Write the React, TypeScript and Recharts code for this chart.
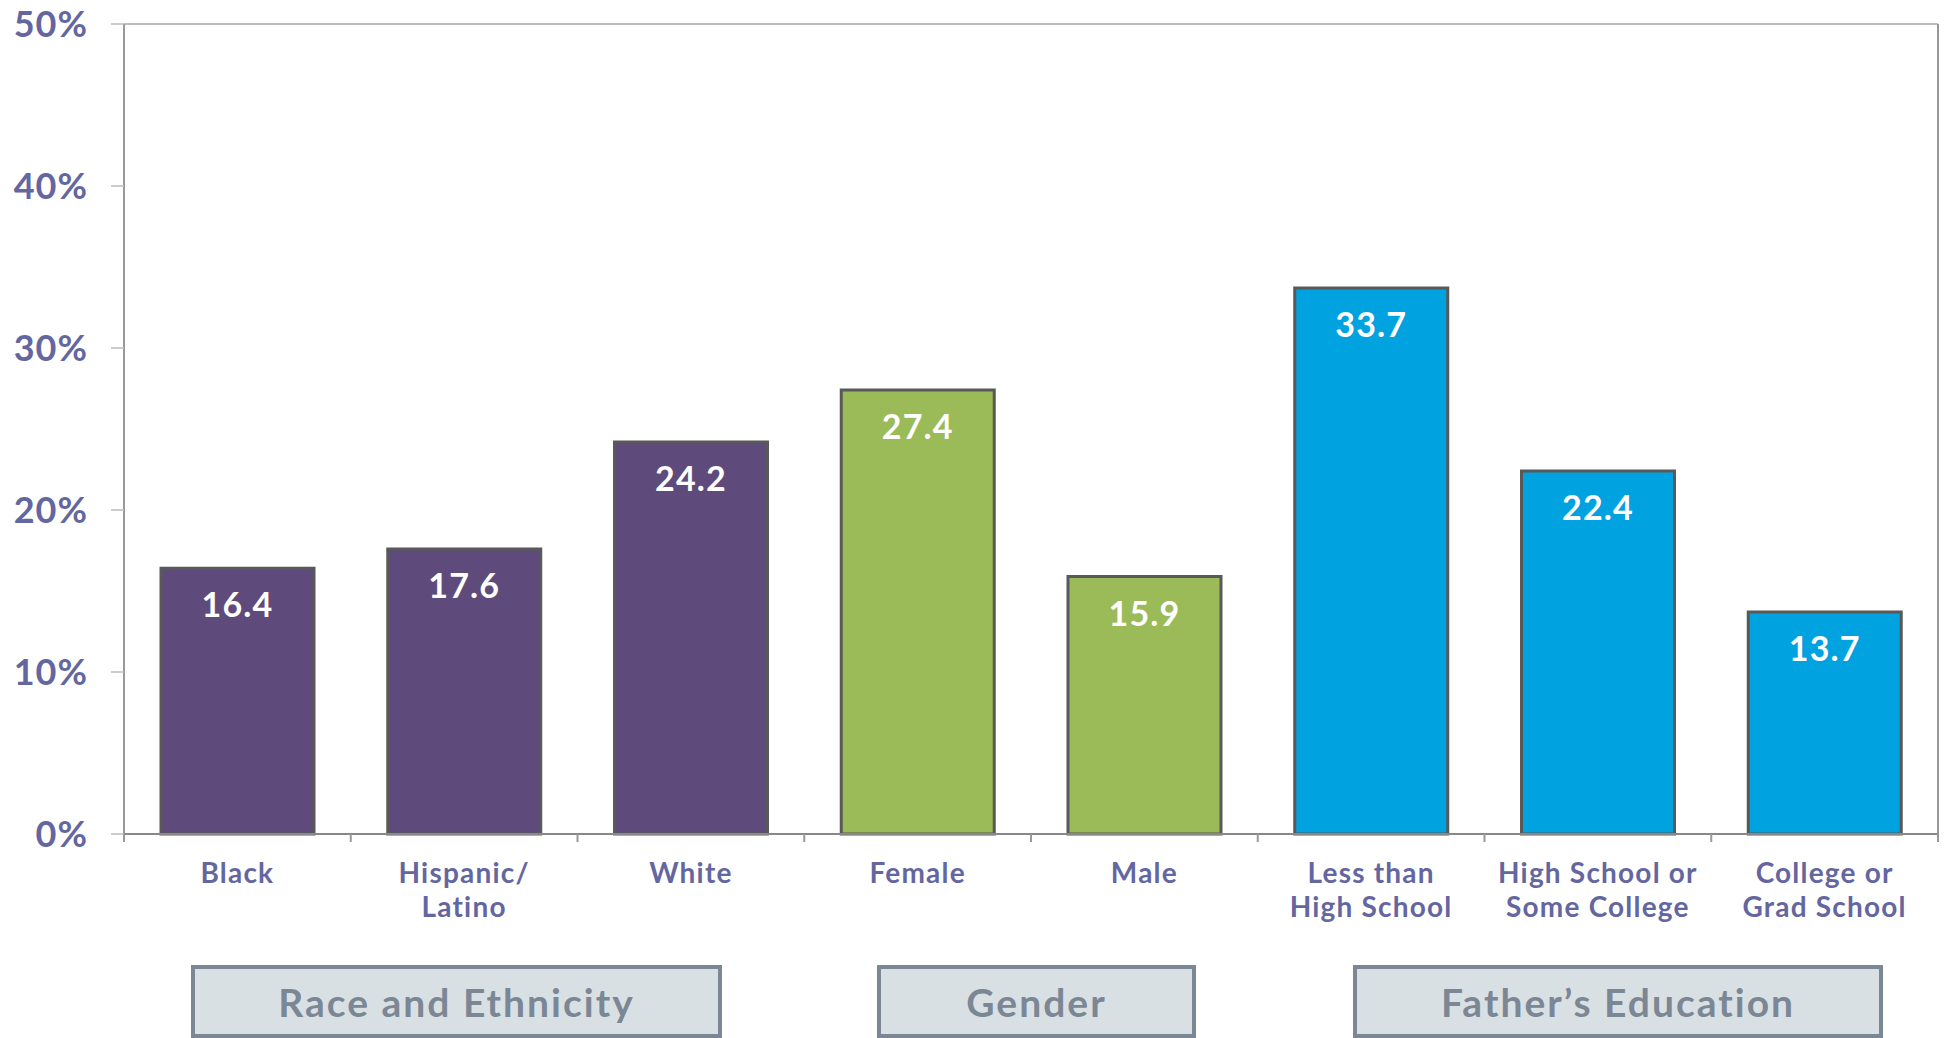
import { Bar, BarChart, CartesianGrid, Cell, LabelList, XAxis, YAxis } from "recharts";

const categories = ["Black", "Hispanic/\nLatino", "White", "Female", "Male", "Less than\nHigh School", "High School or\nSome College", "College or\nGrad School"];
const values = [16.4, 17.6, 24.2, 27.4, 15.9, 33.7, 22.4, 13.7];
const groupOf = [0, 0, 0, 1, 1, 2, 2, 2];
const groupNames = ["Race and Ethnicity", "Gender", "Father\u2019s Education"];
const groupColors = ["#5F4B7B", "#9BBB59", "#00A2DF"];
const yTicks = [0, 10, 20, 30, 40, 50];

const W = 1948;
const H = 1038;
const PLOT_LEFT = 124;
const PLOT_RIGHT = 1938;
const PLOT_TOP = 24;
const PLOT_BOTTOM = 834;
const BAND = (PLOT_RIGHT - PLOT_LEFT) / categories.length;
const FONT = "Lato, 'Open Sans', sans-serif";
const LABEL_COLOR = "#6466A0";

// group boxes under the axis (annotation only)
const groupBoxes = [
  { left: 191, width: 531 },
  { left: 877, width: 319 },
  { left: 1353, width: 530 },
];

const data = categories.map((name, i) => ({ name, value: values[i], group: groupOf[i] }));

function CategoryTick(props: any) {
  const { x, payload, index } = props;
  const lines = String(payload.value).split("\n");
  const left = x - BAND / 2;
  return (
    <g>
      <line x1={left} x2={left} y1={PLOT_BOTTOM} y2={PLOT_BOTTOM + 8} stroke="#999" strokeWidth={2} />
      {index === categories.length - 1 && (
        <line x1={x + BAND / 2} x2={x + BAND / 2} y1={PLOT_BOTTOM} y2={PLOT_BOTTOM + 8} stroke="#999" strokeWidth={2} />
      )}
      <text x={x} y={PLOT_BOTTOM + 49} textAnchor="middle" fill={LABEL_COLOR} fontFamily={FONT} fontWeight={700} fontSize={28} letterSpacing={1.2}>
        {lines.map((l, j) => (
          <tspan key={j} x={x} dy={j === 0 ? 0 : 34}>{l}</tspan>
        ))}
      </text>
    </g>
  );
}

export default function App() {
  return (
    <div style={{ position: "absolute", left: 0, top: 0, width: W, height: H, background: "#fff", overflow: "hidden" }}>
      <BarChart width={W} height={H} data={data} margin={{ top: PLOT_TOP, right: 0, bottom: 0, left: 0 }}>
        <CartesianGrid vertical={false} stroke="#A6A6A6" strokeWidth={1.5} />
        <YAxis
          yAxisId="l"
          domain={[0, 50]}
          ticks={yTicks}
          width={PLOT_LEFT}
          tickFormatter={(v: number) => `${v}%`}
          tick={{ fill: LABEL_COLOR, fontSize: 36, fontWeight: 700, fontFamily: FONT, letterSpacing: 1 }}
          tickSize={13}
          tickMargin={23}
          tickLine={{ stroke: "#BBB", strokeWidth: 1.5 }}
          axisLine={{ stroke: "#999", strokeWidth: 2 }}
        />
        <YAxis yAxisId="r" orientation="right" domain={[0, 50]} width={W - PLOT_RIGHT} tick={false} tickLine={false} axisLine={{ stroke: "#999", strokeWidth: 2 }} />
        <XAxis
          dataKey="name"
          height={H - PLOT_BOTTOM}
          interval={0}
          tick={<CategoryTick />}
          tickLine={false}
          tickSize={0}
          axisLine={{ stroke: "#888", strokeWidth: 2 }}
        />
        <Bar yAxisId="l" dataKey="value" barSize={153} stroke="#595959" strokeWidth={3} isAnimationActive={false}>
          {data.map((d, i) => (
            <Cell key={i} fill={groupColors[d.group]} />
          ))}
          <LabelList
            dataKey="value"
            position="insideTop"
            offset={25}
            fill="#FFFFFF"
            fontSize={34}
            fontWeight={700}
            fontFamily={FONT}
            letterSpacing={1.2}
            formatter={(v: number) => v.toFixed(1)}
          />
        </Bar>
      </BarChart>
      {groupBoxes.map((b, i) => (
        <div
          key={i}
          style={{
            position: "absolute",
            left: b.left,
            top: 965,
            width: b.width,
            height: 73,
            boxSizing: "border-box",
            border: "4px solid #7B8794",
            background: "#D9E0E4",
            color: "#7B8794",
            fontFamily: FONT,
            fontWeight: 700,
            fontSize: 39,
            letterSpacing: 2,
            display: "flex",
            alignItems: "center",
            justifyContent: "center",
          }}
        >
          {groupNames[i]}
        </div>
      ))}
    </div>
  );
}
